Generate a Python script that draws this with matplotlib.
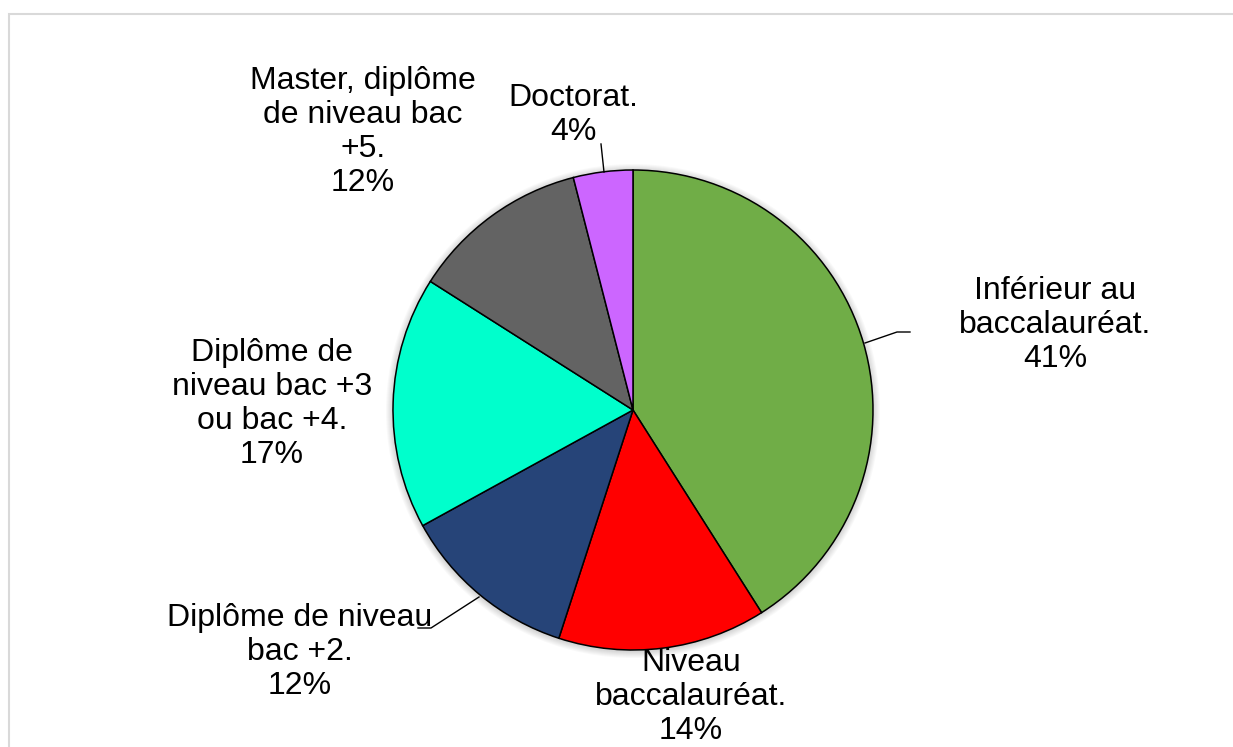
import matplotlib
matplotlib.use("Agg")
import matplotlib.pyplot as plt
from matplotlib.patches import Rectangle, Circle

# données (sens horaire depuis midi)
categories = [
    "Inférieur au\nbaccalauréat.",
    "Niveau\nbaccalauréat.",
    "Diplôme de niveau\nbac +2.",
    "Diplôme de\nniveau bac +3\nou bac +4.",
    "Master, diplôme\nde niveau bac\n+5.",
    "Doctorat.",
]
values = [41, 14, 12, 17, 12, 4]
colors = ["#70AD47", "#FF0000", "#264478", "#00FFCC", "#636363", "#CC66FF"]

W, H = 1233, 747
plt.rcParams["font.family"] = ["Liberation Sans", "DejaVu Sans"]

fig = plt.figure(figsize=(W / 100, H / 100), dpi=100)
ax = fig.add_axes([0, 0, 1, 1])
ax.set_xlim(0, W)
ax.set_ylim(0, H)
ax.set_aspect("equal")
ax.axis("off")

# cadre gris clair du graphique (déborde à droite et en bas)
ax.add_patch(Rectangle((8.5, -10), W + 20, H - 13.5 + 10, fill=False,
                       edgecolor="#D9D9D9", lw=1.5))

cx, cy, R = 633, H - 410, 240

# ombre douce autour du camembert
for k in range(1, 8):
    ax.add_patch(Circle((cx, cy - 1), R + k, color="black", alpha=0.025, lw=0, zorder=1))

wedges, _ = ax.pie(values, colors=colors, startangle=90, counterclock=False,
                   center=(cx, cy), radius=R,
                   wedgeprops=dict(edgecolor="black", linewidth=1.1, zorder=2))
for w in wedges:
    w.set_zorder(2)
ax.set_xlim(0, W)
ax.set_ylim(0, H)

# position (px, depuis le haut) du centre de chaque étiquette
label_pos = [(1055, 325), (691, 697), (300, 652), (272, 404), (363, 132), (573, 115)]
for cat, v, (lx, ly) in zip(categories, values, label_pos):
    ax.text(lx, H - ly, f"{cat}\n{v}%", ha="center", va="center",
            fontsize=23, linespacing=1.17, color="black", zorder=4)

# lignes de rappel
leaders = [
    [(865, 343), (897, 332), (910, 332)],
    [(604, 172), (601, 144)],
    [(479, 597), (431, 628), (418, 628)],
]
for pts in leaders:
    xs = [p[0] for p in pts]
    ys = [H - p[1] for p in pts]
    ax.plot(xs, ys, color="black", lw=1.0, zorder=3)

fig.savefig("out.png", dpi=100, facecolor="white")
